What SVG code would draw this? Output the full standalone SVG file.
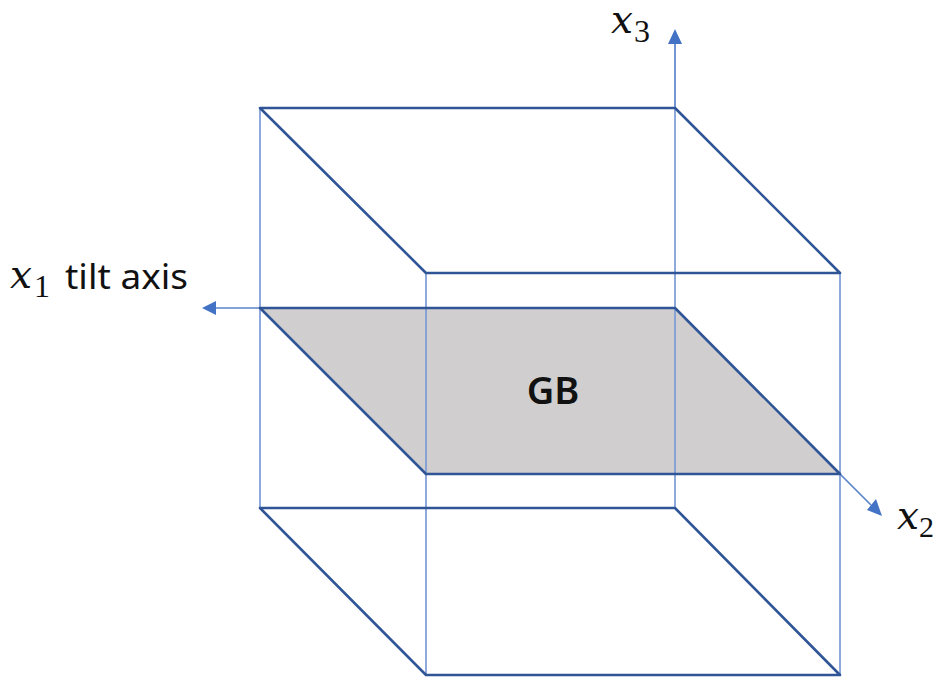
<svg xmlns="http://www.w3.org/2000/svg" width="941" height="678" viewBox="0 0 941 678">
<style>
.face{fill:none;stroke:#2f5597;stroke-width:2.6;stroke-linejoin:round}
.edge{fill:none;stroke:#7b9bd6;stroke-width:1.7}
.axis{fill:none;stroke:#5b84cc;stroke-width:1.7}
.head{fill:#4472c4}
.m{font-family:"DejaVu Serif","Liberation Serif",serif;font-style:italic;fill:#111}
.s{font-family:"Liberation Serif","DejaVu Serif",serif;fill:#111}
.t{font-family:"Noto Sans","Liberation Sans",sans-serif;fill:#111}
</style>
<rect width="941" height="678" fill="#fff"/>
<g id="gb-plane">
<polygon points="260,308 675,308 840,474 426,474" fill="#d0cece"/>
<text x="553" y="404" class="t" font-size="38" font-weight="600" text-anchor="middle">GB</text>
</g>
<g id="connectors">
<path class="edge" d="M260,108V508M426,273V675M675,108V508M840,273V675"/>
<path class="axis" d="M675,108V42M260,308H215M840,474L871,505"/>
<polygon class="head" points="675,29 668,44 682,44"/>
<polygon class="head" points="202,308 216,301 216,315"/>
<polygon class="head" points="882,516 867,510 876,499"/>
</g>
<g id="top-face"><polygon class="face" points="260,108 675,108 840,273 426,273"/></g>
<g id="middle-face"><polygon class="face" points="260,308 675,308 840,474 426,474"/></g>
<g id="bottom-face"><polygon class="face" points="260,508 675,508 840,675 426,675"/></g>
<g id="label-x1">
<text x="10" y="288" class="m" font-size="39">x</text>
<text x="34" y="297" class="s" font-size="32">1</text>
<text x="65" y="289" class="t" font-size="34" textLength="123" lengthAdjust="spacingAndGlyphs">tilt axis</text>
</g>
<g id="label-x3">
<text x="611" y="33" class="m" font-size="39">x</text>
<text x="634" y="42" class="s" font-size="32">3</text>
</g>
<g id="label-x2">
<text x="897" y="529" class="m" font-size="39">x</text>
<text x="919" y="537" class="s" font-size="30">2</text>
</g>
</svg>
